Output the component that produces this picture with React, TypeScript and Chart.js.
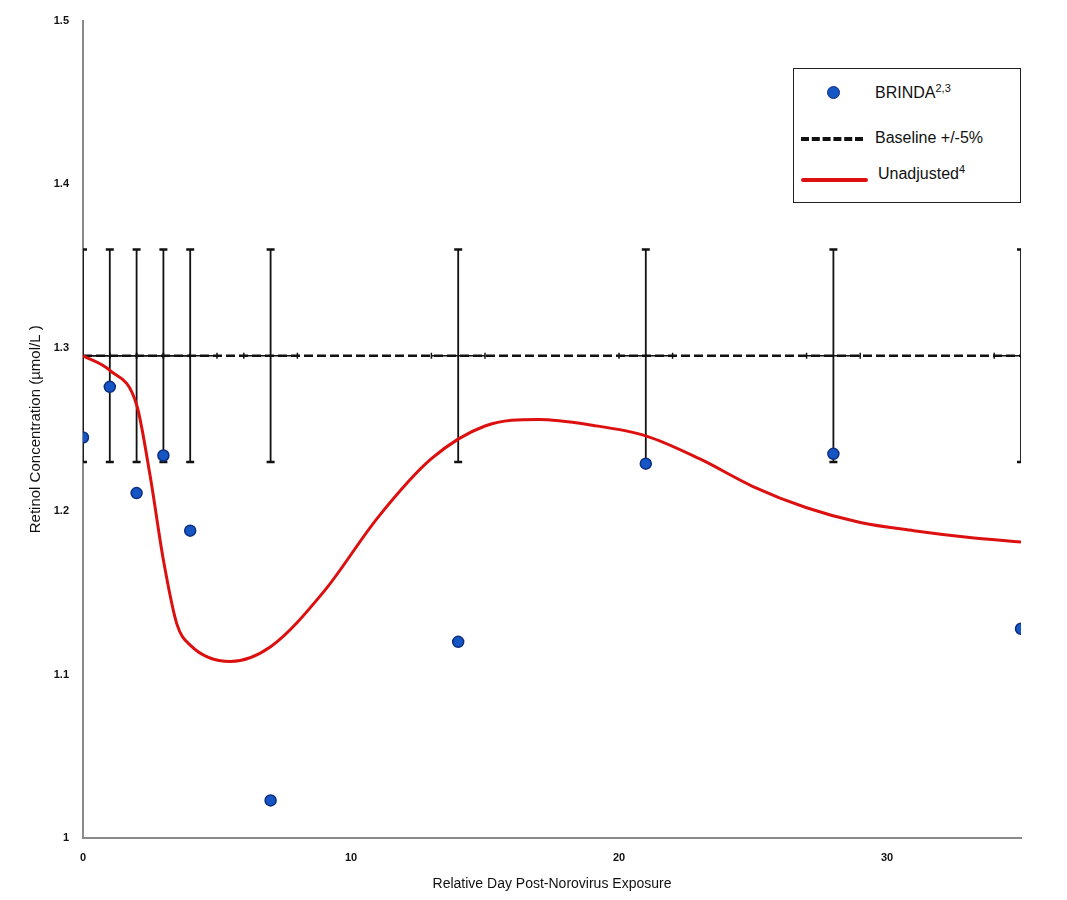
import React, { useEffect, useRef } from "react";
import { Chart, registerables } from "chart.js";

Chart.register(...registerables);

// ---- data ----
const days = [0, 1, 2, 3, 4, 7, 14, 21, 28, 35];
const brinda = [1.245, 1.276, 1.211, 1.234, 1.188, 1.023, 1.12, 1.229, 1.235, 1.128];
const baselineValue = 1.295;
const baselineLower = 1.23;
const baselineUpper = 1.36;
const dayError = 1;

const unadjDays = [0, 1, 2, 2.5, 3, 3.5, 4, 5.5, 7, 9, 11, 13, 15, 17, 19, 21, 23, 25, 27, 29, 31, 33, 35];
const unadjusted = [1.295, 1.286, 1.265, 1.222, 1.17, 1.131, 1.118, 1.108, 1.117, 1.151, 1.196, 1.232, 1.252, 1.256, 1.2525, 1.246, 1.232, 1.215, 1.202, 1.193, 1.188, 1.184, 1.181];

const yTicks = [1, 1.1, 1.2, 1.3, 1.4, 1.5];
const xTicks = [0, 10, 20, 30];

const errorBarPlugin = {
  id: "errorBars",
  beforeDatasetsDraw(chart: any) {
    const { ctx, chartArea, scales } = chart;
    const xs = scales.x;
    const ys = scales.y;
    ctx.save();
    ctx.beginPath();
    ctx.rect(chartArea.left, chartArea.top - 10, chartArea.right - chartArea.left, chartArea.bottom - chartArea.top + 20);
    ctx.clip();
    ctx.strokeStyle = "#111";
    const yTop = ys.getPixelForValue(baselineUpper);
    const yBot = ys.getPixelForValue(baselineLower);
    const yMid = ys.getPixelForValue(baselineValue);
    days.forEach((d) => {
      const x = xs.getPixelForValue(d);
      ctx.lineWidth = 1.8;
      ctx.beginPath();
      ctx.moveTo(x, yTop);
      ctx.lineTo(x, yBot);
      ctx.stroke();
      ctx.lineWidth = 2.5;
      ctx.beginPath();
      ctx.moveTo(x - 4, yTop);
      ctx.lineTo(x + 4, yTop);
      ctx.moveTo(x - 4, yBot);
      ctx.lineTo(x + 4, yBot);
      ctx.stroke();
      // horizontal day error
      const xl = xs.getPixelForValue(d - dayError);
      const xr = xs.getPixelForValue(d + dayError);
      ctx.lineWidth = 1.5;
      ctx.beginPath();
      ctx.moveTo(xl, yMid);
      ctx.lineTo(xr, yMid);
      ctx.moveTo(xl, yMid - 3);
      ctx.lineTo(xl, yMid + 3);
      ctx.moveTo(xr, yMid - 3);
      ctx.lineTo(xr, yMid + 3);
      ctx.stroke();
    });
    ctx.restore();
  },
};

export default function App() {
  const ref = useRef<HTMLCanvasElement | null>(null);

  useEffect(() => {
    document.body.style.margin = "0";
    const canvas = ref.current;
    if (!canvas) return;
    const chart = new Chart(canvas, {
      type: "scatter",
      data: {
        datasets: [
          {
            label: "BRINDA",
            data: days.map((d, i) => ({ x: d, y: brinda[i] })),
            backgroundColor: "#1656c4",
            borderColor: "#0c2e80",
            borderWidth: 1.5,
            pointRadius: 5.5,
            order: 0,
          },
          {
            label: "Unadjusted",
            type: "line",
            data: unadjDays.map((d, i) => ({ x: d, y: unadjusted[i] })),
            borderColor: "#dd1010",
            borderWidth: 3,
            pointRadius: 0,
            cubicInterpolationMode: "monotone",
            fill: false,
            order: 1,
          },
          {
            label: "Baseline +/-5%",
            type: "line",
            data: [
              { x: 0, y: baselineValue },
              { x: 35, y: baselineValue },
            ],
            borderColor: "#111",
            borderWidth: 2.5,
            borderDash: [9, 4],
            pointRadius: 0,
            fill: false,
            order: 2,
          },
        ],
      },
      options: {
        animation: false,
        responsive: false,
        layout: { padding: { top: 20, right: 46, left: 0, bottom: 0 } },
        plugins: {
          legend: { display: false },
          tooltip: { enabled: false },
        },
        scales: {
          x: {
            type: "linear",
            min: 0,
            max: 35,
            afterBuildTicks: (s: any) => {
              s.ticks = xTicks.map((v) => ({ value: v }));
            },
            afterFit: (s: any) => {
              s.height = 62;
            },
            grid: { display: false, drawTicks: false },
            border: { color: "#8a8a8a", width: 2 },
            ticks: {
              padding: 13,
              color: "#111",
              font: { family: "'Liberation Sans', Arial", size: 11, weight: "bold" },
            },
            title: {
              display: true,
              text: "Relative Day Post-Norovirus Exposure",
              color: "#111",
              padding: { top: 4, bottom: 7 },
              font: { family: "'Liberation Sans', Arial", size: 14 },
            },
          },
          y: {
            type: "linear",
            min: 1,
            max: 1.5,
            afterBuildTicks: (s: any) => {
              s.ticks = yTicks.map((v) => ({ value: v }));
            },
            afterFit: (s: any) => {
              s.width = 83;
            },
            grid: { display: false, drawTicks: false },
            border: { color: "#8a8a8a", width: 2 },
            ticks: {
              padding: 14,
              color: "#111",
              font: { family: "'Liberation Sans', Arial", size: 11, weight: "bold" },
              callback: (v: any) => String(Math.round(Number(v) * 10) / 10),
            },
            title: {
              display: true,
              text: "Retinol Concentration (µmol/L )",
              color: "#111",
              padding: { top: 27, bottom: 4 },
              font: { family: "'Liberation Sans', Arial", size: 15 },
            },
          },
        },
      },
      plugins: [errorBarPlugin],
    } as any);
    return () => chart.destroy();
  }, []);

  const textStyle: React.CSSProperties = {
    position: "absolute",
    fontFamily: "'Liberation Sans', Arial, sans-serif",
    fontSize: 16,
    color: "#111",
    whiteSpace: "nowrap",
  };

  return (
    <div style={{ position: "relative", width: 1067, height: 900, background: "#fff" }}>
      <canvas ref={ref} width={1067} height={900} style={{ display: "block" }} />
      <div
        style={{
          position: "absolute",
          left: 793,
          top: 68,
          width: 226,
          height: 133,
          border: "1.5px solid #222",
          background: "#fff",
        }}
      >
        <div
          style={{
            position: "absolute",
            left: 33,
            top: 17,
            width: 11,
            height: 11,
            borderRadius: "50%",
            background: "#1656c4",
            border: "1.5px solid #0c2e80",
          }}
        />
        <div style={{ ...textStyle, left: 81, top: 13 }}>
          BRINDA<sup style={{ fontSize: 11 }}>2,3</sup>
        </div>
        <div
          style={{
            position: "absolute",
            left: 7,
            top: 68,
            width: 62,
            height: 0,
            borderTop: "4px dashed #111",
          }}
        />
        <div style={{ ...textStyle, left: 81, top: 60 }}>Baseline +/-5%</div>
        <div
          style={{
            position: "absolute",
            left: 7,
            top: 109,
            width: 67,
            height: 4,
            borderRadius: 2,
            background: "#dd1010",
          }}
        />
        <div style={{ ...textStyle, left: 84, top: 94 }}>
          Unadjusted<sup style={{ fontSize: 11 }}>4</sup>
        </div>
      </div>
    </div>
  );
}
